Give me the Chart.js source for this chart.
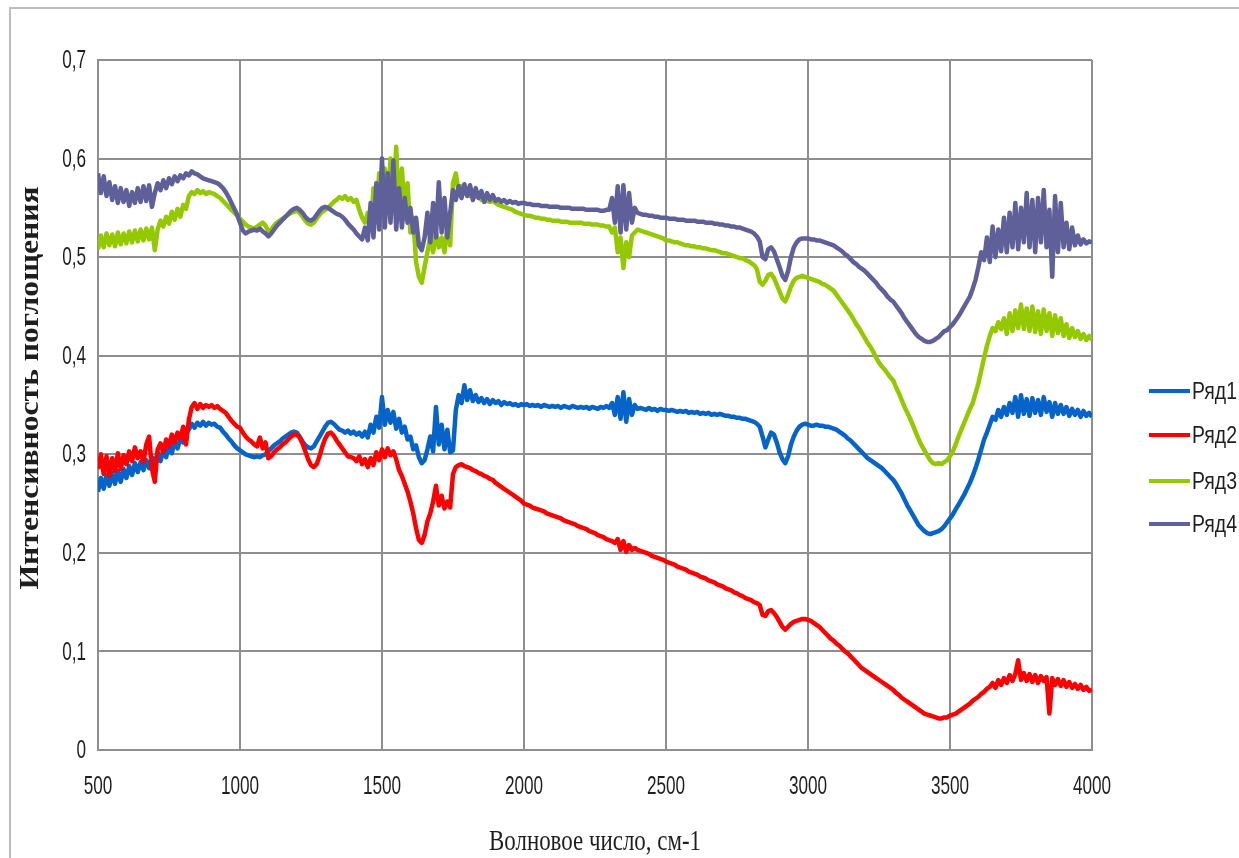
<!DOCTYPE html>
<html>
<head>
<meta charset="utf-8">
<script src="https://cdn.jsdelivr.net/npm/chart.js@4/dist/chart.umd.min.js"></script>
<style>
  html, body { margin: 0; padding: 0; background: #fff; }
  #wrap { position: relative; width: 1239px; height: 858px; }
</style>
</head>
<body>
<div id="wrap"><canvas id="spectraChart" width="1239" height="858"></canvas></div>
<script>
// wavenumber grid, cm-1 (sampled every 10)
var WN_START = 500;
var WN_STEP = 10;

var xTicks = [500, 1000, 1500, 2000, 2500, 3000, 3500, 4000];
var yTicks = [0, 0.1, 0.2, 0.3, 0.4, 0.5, 0.6, 0.7];
var seriesNames = ["Ряд1", "Ряд2", "Ряд3", "Ряд4"];

var ryad1 = [
  0.262, 0.276, 0.265, 0.279, 0.268, 0.281, 0.27, 0.283, 0.272, 0.285, // 500
  0.276, 0.288, 0.279, 0.291, 0.282, 0.292, 0.284, 0.294, 0.286, 0.297, // 600
  0.29, 0.302, 0.293, 0.305, 0.297, 0.31, 0.301, 0.313, 0.306, 0.316,   // 700
  0.312, 0.322, 0.325, 0.331, 0.327, 0.332, 0.329, 0.333, 0.329, 0.332, // 800
  0.33, 0.331, 0.328, 0.327, 0.323, 0.32, 0.316, 0.313, 0.309, 0.306,   // 900
  0.304, 0.302, 0.3, 0.299, 0.298, 0.297, 0.298, 0.297, 0.299, 0.3,     // 1000
  0.303, 0.306, 0.309, 0.311, 0.313, 0.316, 0.318, 0.32, 0.322, 0.323,  // 1100
  0.322, 0.318, 0.313, 0.309, 0.307, 0.306, 0.308, 0.313, 0.318, 0.323, // 1200
  0.328, 0.332, 0.333, 0.331, 0.328, 0.325, 0.324, 0.322, 0.324, 0.321, // 1300
  0.323, 0.32, 0.322, 0.318, 0.323, 0.317, 0.33, 0.322, 0.338, 0.327,   // 1400
  0.358, 0.33, 0.345, 0.332, 0.343, 0.326, 0.336, 0.322, 0.328, 0.315,  // 1500
  0.318, 0.305, 0.309, 0.297, 0.291, 0.294, 0.305, 0.318, 0.303, 0.348, // 1600
  0.31, 0.33, 0.305, 0.325, 0.302, 0.304, 0.345, 0.36, 0.352, 0.37,     // 1700
  0.355, 0.365, 0.354, 0.36, 0.353, 0.357, 0.352, 0.356, 0.351, 0.355,  // 1800
  0.352, 0.354, 0.35, 0.353, 0.351, 0.352, 0.35, 0.351, 0.349, 0.351,   // 1900
  0.35, 0.351, 0.349, 0.35, 0.349, 0.35, 0.348, 0.35, 0.349, 0.348,     // 2000
  0.349, 0.348, 0.349, 0.347, 0.349, 0.348, 0.347, 0.349, 0.348, 0.347, // 2100
  0.348, 0.347, 0.348, 0.346, 0.348, 0.347, 0.346, 0.348, 0.347, 0.349, // 2200
  0.347, 0.352, 0.34, 0.358, 0.336, 0.363, 0.333, 0.356, 0.34, 0.35,    // 2300
  0.346, 0.347, 0.346, 0.345, 0.347, 0.345, 0.346, 0.344, 0.346, 0.345, // 2400
  0.345, 0.344, 0.345, 0.344, 0.343, 0.344, 0.343, 0.344, 0.342, 0.343, // 2500
  0.342, 0.343, 0.341, 0.342, 0.341, 0.342, 0.34, 0.341, 0.34, 0.341,   // 2600
  0.34, 0.339, 0.339, 0.338, 0.338, 0.337, 0.337, 0.336, 0.336, 0.335,  // 2700
  0.334, 0.333, 0.331, 0.328, 0.318, 0.307, 0.315, 0.322, 0.32, 0.312,  // 2800
  0.302, 0.295, 0.291, 0.298, 0.31, 0.318, 0.324, 0.328, 0.33, 0.331,   // 2900
  0.33, 0.329, 0.329, 0.33, 0.329, 0.329, 0.328, 0.328, 0.327, 0.326,   // 3000
  0.325, 0.323, 0.321, 0.319, 0.316, 0.314, 0.311, 0.308, 0.305, 0.302, // 3100
  0.299, 0.296, 0.294, 0.292, 0.29, 0.288, 0.286, 0.283, 0.28, 0.277,   // 3200
  0.274, 0.27, 0.265, 0.26, 0.254, 0.248, 0.243, 0.238, 0.233, 0.228,   // 3300
  0.225, 0.222, 0.22, 0.219, 0.22, 0.221, 0.222, 0.224, 0.227, 0.231,   // 3400
  0.235, 0.239, 0.244, 0.249, 0.254, 0.259, 0.265, 0.271, 0.278, 0.286, // 3500
  0.295, 0.305, 0.315, 0.322, 0.33, 0.338, 0.335, 0.345, 0.338, 0.348,  // 3600
  0.34, 0.352, 0.342, 0.358, 0.338, 0.36, 0.341, 0.356, 0.339, 0.357,   // 3700
  0.342, 0.355, 0.34, 0.358, 0.343, 0.353, 0.338, 0.352, 0.341, 0.35,   // 3800
  0.341, 0.348, 0.339, 0.346, 0.34, 0.345, 0.338, 0.344, 0.339, 0.342,  // 3900
  0.338
];

var ryad2 = [
  0.285, 0.3, 0.28, 0.298, 0.278, 0.296, 0.283, 0.301, 0.285, 0.299,   // 500
  0.29, 0.303, 0.293, 0.307, 0.296, 0.303, 0.292, 0.31, 0.318, 0.285,  // 600
  0.272, 0.305, 0.311, 0.302, 0.315, 0.308, 0.32, 0.312, 0.322, 0.316, // 700
  0.328, 0.31, 0.335, 0.348, 0.352, 0.346, 0.351, 0.347, 0.35, 0.348,  // 800
  0.35, 0.347, 0.349, 0.346, 0.344, 0.342, 0.338, 0.334, 0.331, 0.328, // 900
  0.327, 0.322, 0.318, 0.315, 0.313, 0.31, 0.308, 0.317, 0.306, 0.312, // 1000
  0.296, 0.298, 0.302, 0.305, 0.307, 0.31, 0.312, 0.315, 0.318, 0.32,  // 1100
  0.32, 0.317, 0.311, 0.303, 0.295, 0.289, 0.287, 0.29, 0.298, 0.308,  // 1200
  0.316, 0.321, 0.322, 0.319, 0.314, 0.31, 0.306, 0.302, 0.298, 0.297, // 1300
  0.296, 0.293, 0.298, 0.29, 0.295, 0.287, 0.296, 0.289, 0.302, 0.294, // 1400
  0.305, 0.297, 0.306, 0.299, 0.303, 0.295, 0.284, 0.278, 0.27, 0.262, // 1500
  0.252, 0.24, 0.225, 0.213, 0.21, 0.218, 0.232, 0.24, 0.252, 0.268,   // 1600
  0.248, 0.258, 0.245, 0.252, 0.246, 0.28, 0.287, 0.289, 0.29, 0.288,  // 1700
  0.287, 0.286, 0.284, 0.283, 0.281, 0.28, 0.278, 0.277, 0.275, 0.274, // 1800
  0.271, 0.269, 0.267, 0.265, 0.263, 0.261, 0.259, 0.257, 0.255, 0.253, // 1900
  0.25, 0.249, 0.248, 0.246, 0.245, 0.244, 0.243, 0.242, 0.24, 0.239,  // 2000
  0.238, 0.237, 0.236, 0.235, 0.233, 0.232, 0.231, 0.23, 0.229, 0.227, // 2100
  0.226, 0.225, 0.224, 0.222, 0.221, 0.22, 0.218, 0.217, 0.216, 0.214, // 2200
  0.213, 0.212, 0.21, 0.214, 0.203, 0.212, 0.201, 0.208, 0.203, 0.205, // 2300
  0.203, 0.202, 0.201, 0.2, 0.199, 0.197, 0.196, 0.195, 0.194, 0.193,  // 2400
  0.191, 0.19, 0.189, 0.188, 0.186, 0.185, 0.184, 0.183, 0.181, 0.18,  // 2500
  0.179, 0.178, 0.176, 0.175, 0.174, 0.172, 0.171, 0.17, 0.168, 0.167, // 2600
  0.166, 0.164, 0.163, 0.162, 0.16, 0.159, 0.157, 0.156, 0.154, 0.153, // 2700
  0.152, 0.15, 0.149, 0.147, 0.137, 0.136, 0.141, 0.142, 0.139, 0.135, // 2800
  0.13, 0.125, 0.122, 0.125, 0.128, 0.13, 0.131, 0.132, 0.133, 0.133,  // 2900
  0.132, 0.131, 0.129, 0.127, 0.125, 0.122, 0.119, 0.116, 0.113, 0.111, // 3000
  0.108, 0.106, 0.103, 0.1, 0.098, 0.095, 0.092, 0.089, 0.086, 0.083,  // 3100
  0.081, 0.079, 0.077, 0.075, 0.073, 0.071, 0.069, 0.067, 0.065, 0.063, // 3200
  0.061, 0.058, 0.056, 0.053, 0.051, 0.049, 0.047, 0.045, 0.043, 0.041, // 3300
  0.039, 0.037, 0.036, 0.035, 0.034, 0.033, 0.032, 0.032, 0.033, 0.033, // 3400
  0.035, 0.036, 0.037, 0.039, 0.041, 0.043, 0.045, 0.047, 0.05, 0.052, // 3500
  0.054, 0.057, 0.059, 0.062, 0.064, 0.068, 0.063, 0.071, 0.066, 0.073, // 3600
  0.068, 0.076, 0.07, 0.077, 0.091, 0.071, 0.078, 0.07, 0.077, 0.069,  // 3700
  0.076, 0.068, 0.075, 0.07, 0.074, 0.037, 0.073, 0.066, 0.072, 0.065, // 3800
  0.071, 0.064, 0.069, 0.063, 0.067, 0.062, 0.066, 0.061, 0.064, 0.06, // 3900
  0.061
];

var ryad3 = [
  0.508, 0.522, 0.51, 0.524, 0.512, 0.523, 0.511, 0.525, 0.513, 0.524, // 500
  0.514, 0.526, 0.515, 0.527, 0.516, 0.528, 0.517, 0.529, 0.518, 0.53,  // 600
  0.507, 0.528, 0.537, 0.531, 0.541, 0.534, 0.546, 0.538, 0.549, 0.541, // 700
  0.553, 0.549, 0.562, 0.566, 0.564, 0.568, 0.565, 0.567, 0.564, 0.566, // 800
  0.565, 0.564, 0.562, 0.56, 0.557, 0.554, 0.551, 0.548, 0.545, 0.542,  // 900
  0.539, 0.536, 0.533, 0.531, 0.53, 0.529, 0.531, 0.533, 0.535, 0.532,  // 1000
  0.526, 0.528, 0.532, 0.535, 0.537, 0.539, 0.541, 0.543, 0.545, 0.546, // 1100
  0.547, 0.545, 0.541, 0.537, 0.534, 0.533, 0.535, 0.539, 0.543, 0.546, // 1200
  0.548, 0.55, 0.553, 0.556, 0.558, 0.561, 0.559, 0.562, 0.558, 0.56,   // 1300
  0.556, 0.558, 0.548, 0.54, 0.535, 0.545, 0.53, 0.57, 0.54, 0.585,     // 1400
  0.545, 0.59, 0.55, 0.6, 0.555, 0.612, 0.54, 0.59, 0.545, 0.575,       // 1500
  0.525, 0.54, 0.495, 0.48, 0.474, 0.49, 0.505, 0.52, 0.505, 0.525,     // 1600
  0.51, 0.52, 0.505, 0.53, 0.512, 0.575, 0.585, 0.565, 0.572, 0.565,    // 1700
  0.568, 0.562, 0.566, 0.561, 0.564, 0.558, 0.561, 0.557, 0.556, 0.557, // 1800
  0.555, 0.553, 0.552, 0.551, 0.55, 0.549, 0.548, 0.546, 0.545, 0.544,  // 1900
  0.543, 0.542, 0.542, 0.541, 0.54, 0.54, 0.539, 0.539, 0.538, 0.538,   // 2000
  0.537, 0.537, 0.537, 0.536, 0.536, 0.536, 0.535, 0.535, 0.535, 0.535, // 2100
  0.535, 0.534, 0.534, 0.534, 0.533, 0.533, 0.533, 0.532, 0.532, 0.531, // 2200
  0.531, 0.525, 0.53, 0.505, 0.52, 0.489, 0.515, 0.5, 0.522, 0.525,     // 2300
  0.528, 0.527, 0.526, 0.525, 0.524, 0.523, 0.522, 0.521, 0.52, 0.519,  // 2400
  0.517, 0.517, 0.516, 0.515, 0.515, 0.514, 0.513, 0.512, 0.512, 0.511, // 2500
  0.511, 0.51, 0.51, 0.509, 0.509, 0.508, 0.507, 0.507, 0.506, 0.505,   // 2600
  0.504, 0.504, 0.503, 0.502, 0.501, 0.5, 0.499, 0.499, 0.497, 0.496,   // 2700
  0.494, 0.492, 0.488, 0.475, 0.472, 0.476, 0.482, 0.483, 0.479, 0.472, // 2800
  0.465, 0.458, 0.455, 0.462, 0.47, 0.476, 0.479, 0.48, 0.481, 0.48,    // 2900
  0.479, 0.478, 0.477, 0.476, 0.475, 0.473, 0.472, 0.47, 0.468, 0.466,  // 3000
  0.462, 0.458, 0.454, 0.45, 0.446, 0.442, 0.437, 0.432, 0.428, 0.423,  // 3100
  0.418, 0.413, 0.409, 0.404, 0.398, 0.393, 0.389, 0.386, 0.382, 0.378, // 3200
  0.375, 0.368, 0.362, 0.355, 0.348, 0.342, 0.336, 0.329, 0.322, 0.315, // 3300
  0.309, 0.304, 0.299, 0.294, 0.291, 0.29, 0.291, 0.29, 0.292, 0.294,   // 3400
  0.298, 0.303, 0.31, 0.318, 0.325, 0.332, 0.339, 0.346, 0.352, 0.362,  // 3500
  0.372, 0.385, 0.398, 0.41, 0.42, 0.428, 0.425, 0.434, 0.427, 0.438,   // 3600
  0.422, 0.443, 0.425, 0.446, 0.428, 0.452, 0.427, 0.448, 0.425, 0.45,  // 3700
  0.424, 0.445, 0.422, 0.447, 0.425, 0.443, 0.42, 0.441, 0.423, 0.438,  // 3800
  0.42, 0.432, 0.418, 0.428, 0.419, 0.425, 0.417, 0.422, 0.416, 0.42,   // 3900
  0.416
];

var ryad4 = [
  0.585, 0.565, 0.582, 0.562, 0.576, 0.558, 0.572, 0.555, 0.57, 0.556,  // 500
  0.568, 0.552, 0.566, 0.555, 0.57, 0.556, 0.572, 0.557, 0.573, 0.551,  // 600
  0.565, 0.575, 0.568, 0.578, 0.57, 0.58, 0.574, 0.582, 0.577, 0.583,   // 700
  0.58, 0.585, 0.583, 0.587, 0.585, 0.584, 0.582, 0.58, 0.579, 0.578,   // 800
  0.577, 0.576, 0.575, 0.573, 0.57, 0.566, 0.561, 0.555, 0.549, 0.543,  // 900
  0.535, 0.527, 0.524, 0.526, 0.527, 0.528, 0.527, 0.529, 0.526, 0.524, // 1000
  0.521, 0.524, 0.528, 0.532, 0.535, 0.538, 0.541, 0.544, 0.547, 0.549, // 1100
  0.55, 0.548, 0.545, 0.541, 0.538, 0.537, 0.539, 0.543, 0.547, 0.55,   // 1200
  0.551, 0.55, 0.548, 0.546, 0.544, 0.543, 0.541, 0.538, 0.534, 0.531,  // 1300
  0.528, 0.524, 0.521, 0.518, 0.53, 0.517, 0.555, 0.52, 0.575, 0.528,   // 1400
  0.6, 0.53, 0.585, 0.535, 0.598, 0.528, 0.57, 0.53, 0.56, 0.535,       // 1500
  0.55, 0.525, 0.54, 0.512, 0.507, 0.52, 0.545, 0.515, 0.555, 0.52,     // 1600
  0.576, 0.525, 0.56, 0.52, 0.545, 0.568, 0.558, 0.572, 0.56, 0.574,    // 1700
  0.562, 0.573, 0.558, 0.57, 0.56, 0.567, 0.556, 0.565, 0.558, 0.563,   // 1800
  0.557, 0.559, 0.556, 0.558, 0.555, 0.557, 0.555, 0.556, 0.554, 0.555, // 1900
  0.555, 0.554, 0.554, 0.553, 0.553, 0.553, 0.552, 0.552, 0.552, 0.551, // 2000
  0.551, 0.551, 0.551, 0.55, 0.55, 0.55, 0.55, 0.549, 0.549, 0.549,     // 2100
  0.549, 0.549, 0.548, 0.548, 0.548, 0.548, 0.548, 0.547, 0.547, 0.548, // 2200
  0.548, 0.56, 0.535, 0.572, 0.525, 0.573, 0.528, 0.565, 0.535, 0.55,   // 2300
  0.545, 0.544, 0.543, 0.543, 0.542, 0.542, 0.541, 0.541, 0.54, 0.54,   // 2400
  0.54, 0.539, 0.539, 0.539, 0.538, 0.538, 0.538, 0.537, 0.537, 0.537,  // 2500
  0.537, 0.536, 0.536, 0.536, 0.535, 0.535, 0.535, 0.534, 0.534, 0.533, // 2600
  0.533, 0.532, 0.532, 0.531, 0.531, 0.53, 0.53, 0.529, 0.528, 0.527,   // 2700
  0.526, 0.524, 0.521, 0.516, 0.5, 0.498, 0.508, 0.51, 0.506, 0.498,    // 2800
  0.49, 0.481, 0.477, 0.486, 0.5, 0.51, 0.515, 0.518, 0.519, 0.519,     // 2900
  0.519, 0.518, 0.518, 0.517, 0.517, 0.516, 0.515, 0.514, 0.513, 0.512, // 3000
  0.51, 0.508, 0.506, 0.503, 0.501, 0.498, 0.495, 0.493, 0.49, 0.488,   // 3100
  0.486, 0.483, 0.48, 0.477, 0.474, 0.47, 0.467, 0.464, 0.46, 0.457,    // 3200
  0.455, 0.451, 0.447, 0.443, 0.438, 0.434, 0.43, 0.426, 0.422, 0.419,  // 3300
  0.417, 0.415, 0.414, 0.414, 0.415, 0.417, 0.419, 0.422, 0.425, 0.426, // 3400
  0.429, 0.432, 0.436, 0.44, 0.445, 0.45, 0.455, 0.46, 0.468, 0.477,    // 3500
  0.49, 0.505, 0.497, 0.52, 0.495, 0.531, 0.5, 0.528, 0.506, 0.54,      // 3600
  0.505, 0.545, 0.51, 0.555, 0.508, 0.55, 0.515, 0.565, 0.51, 0.558,    // 3700
  0.505, 0.56, 0.515, 0.568, 0.51, 0.548, 0.48, 0.562, 0.505, 0.555,    // 3800
  0.51, 0.535, 0.508, 0.53, 0.512, 0.522, 0.513, 0.518, 0.514, 0.516,   // 3900
  0.515
];

var seriesColors = ["#0563C9", "#FF0000", "#94C800", "#5F5F9A"];

var wavenumbers = ryad1.map(function (v, i) { return WN_START + i * WN_STEP; });

function toPoints(values) {
  return values.map(function (v, i) { return { x: wavenumbers[i], y: v }; });
}

var gridColor = "#8E8E8E";
var textColor = "#1e1e1e";
var sansFont = "'Liberation Sans', Arial, sans-serif";
var serifFont = "'Liberation Serif', 'Times New Roman', serif";

// draws text squeezed horizontally (the original uses a narrow face)
function narrowText(ctx, text, x, y, squeeze, align) {
  var w = ctx.measureText(text).width * squeeze;
  var left = align === "right" ? x - w : align === "center" ? x - w / 2 : x;
  ctx.save();
  ctx.translate(left, y);
  ctx.scale(squeeze, 1);
  ctx.textAlign = "left";
  ctx.fillText(text, 0, 0);
  ctx.restore();
}

function fmtY(v) {
  return v === 0 ? "0" : v.toFixed(1).replace(".", ",");
}

// tick labels, axis titles, legend and outer frame drawn by hand to match the original
var decorPlugin = {
  id: "decor",
  beforeDraw: function (chart) {
    var ctx = chart.ctx;
    ctx.save();
    ctx.strokeStyle = "#BDBDBD";
    ctx.lineWidth = 2;
    ctx.strokeRect(10, 8, 1260, 900);
    ctx.restore();
  },
  afterDraw: function (chart) {
    var ctx = chart.ctx;
    var xs = chart.scales.x;
    var ys = chart.scales.y;
    ctx.save();
    ctx.fillStyle = textColor;
    ctx.textBaseline = "middle";

    ctx.font = "26px " + sansFont;
    xTicks.forEach(function (v) {
      narrowText(ctx, String(v), xs.getPixelForValue(v), 787, 0.66, "center");
    });
    yTicks.forEach(function (v) {
      narrowText(ctx, fmtY(v), 86, ys.getPixelForValue(v) + 1, 0.66, "right");
    });

    // x title
    ctx.font = "29px " + serifFont;
    var xt = "Волновое число, см-1";
    narrowText(ctx, xt, 595, 842, 212 / ctx.measureText(xt).width, "center");

    // y title
    ctx.font = "bold 27px " + serifFont;
    var yt = "Интенсивность поглощения";
    var wy = ctx.measureText(yt).width;
    ctx.save();
    ctx.translate(31, 388);
    ctx.rotate(-Math.PI / 2);
    ctx.scale(403 / wy, 1);
    ctx.textAlign = "center";
    ctx.fillText(yt, 0, 0);
    ctx.restore();

    // legend
    var ly = [391, 435, 481, 524];
    ctx.font = "24px " + sansFont;
    chart.data.datasets.forEach(function (ds, i) {
      ctx.strokeStyle = ds.borderColor;
      ctx.lineWidth = 4;
      ctx.beginPath();
      ctx.moveTo(1149, ly[i]);
      ctx.lineTo(1190, ly[i]);
      ctx.stroke();
      ctx.fillStyle = textColor;
      narrowText(ctx, ds.label, 1192, ly[i] + 1, 45 / ctx.measureText(ds.label).width, "left");
    });
    ctx.restore();
  }
};

var ctx = document.getElementById("spectraChart").getContext("2d");
new Chart(ctx, {
  type: "line",
  data: {
    datasets: [
      { label: seriesNames[0], data: toPoints(ryad1), borderColor: seriesColors[0], order: 4 },
      { label: seriesNames[1], data: toPoints(ryad2), borderColor: seriesColors[1], order: 3 },
      { label: seriesNames[2], data: toPoints(ryad3), borderColor: seriesColors[2], order: 2 },
      { label: seriesNames[3], data: toPoints(ryad4), borderColor: seriesColors[3], order: 1 }
    ]
  },
  options: {
    responsive: false,
    animation: false,
    devicePixelRatio: 1,
    layout: { padding: { top: 60, right: 147, left: 0, bottom: 0 } },
    elements: {
      point: { radius: 0 },
      line: { borderWidth: 4.5, tension: 0, borderJoinStyle: "round" }
    },
    plugins: {
      legend: { display: false },
      tooltip: { enabled: false }
    },
    scales: {
      x: {
        type: "linear",
        min: xTicks[0],
        max: xTicks[xTicks.length - 1],
        afterBuildTicks: function (axis) {
          axis.ticks = xTicks.map(function (v) { return { value: v }; });
        },
        afterFit: function (axis) { axis.height = 108; },
        grid: { color: gridColor, lineWidth: 2, drawTicks: false },
        border: { color: gridColor, width: 2 },
        ticks: { display: false }
      },
      y: {
        min: yTicks[0],
        max: yTicks[yTicks.length - 1],
        afterBuildTicks: function (axis) {
          axis.ticks = yTicks.map(function (v) { return { value: v }; });
        },
        afterFit: function (axis) { axis.width = 98; },
        grid: { color: gridColor, lineWidth: 2, drawTicks: false },
        border: { color: gridColor, width: 2 },
        ticks: { display: false }
      }
    }
  },
  plugins: [decorPlugin]
});
</script>
</body>
</html>
